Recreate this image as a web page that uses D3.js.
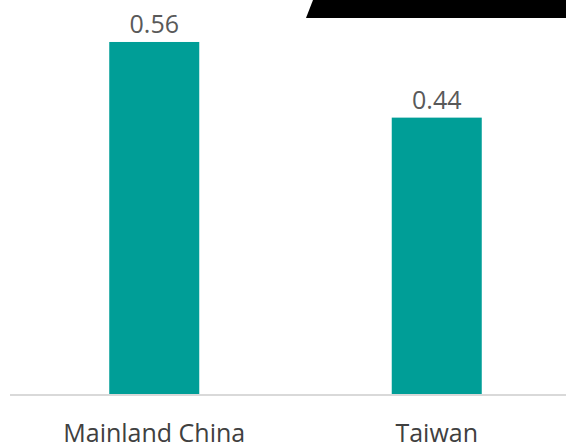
<!DOCTYPE html>
<html>
<head>
<meta charset="utf-8">
<script src="https://cdn.jsdelivr.net/npm/d3@7/dist/d3.min.js"></script>
<style>
  html, body { margin: 0; padding: 0; background: #fff; }
  svg { display: block; }
  text { font-family: "Open Sans", sans-serif; }
</style>
</head>
<body>
<svg id="chart" width="566" height="446"></svg>
<script>
// Share values by region
const categories = ["Mainland China", "Taiwan"];
const values = [0.56, 0.44];
const valueLabels = ["0.56", "0.44"];

const width = 566, height = 446;
const svg = d3.select("#chart");

const baseY = 395;
const x = d3.scaleBand()
  .domain(categories)
  .range([13, 578])
  .paddingInner(0.6814)
  .paddingOuter(0.3407);

const y = d3.scaleLinear()
  .domain([0, 0.625])
  .range([baseY, 1]);

// Dark banner strip along the top edge
svg.append("path")
  .attr("d", "M313,0 L566,0 L566,18 L306,18 Z")
  .attr("fill", "#000");

// Bars
svg.selectAll("rect.bar")
  .data(values)
  .join("rect")
  .attr("class", "bar")
  .attr("x", (d, i) => x(categories[i]))
  .attr("width", x.bandwidth())
  .attr("y", d => y(d))
  .attr("height", d => baseY - y(d))
  .attr("fill", "#009E97");

// Baseline
svg.append("line")
  .attr("x1", 10).attr("x2", 566)
  .attr("y1", baseY).attr("y2", baseY)
  .attr("stroke", "#d9d9d9")
  .attr("stroke-width", 2);

// Value labels
svg.selectAll("text.val")
  .data(values)
  .join("text")
  .attr("class", "val")
  .attr("x", (d, i) => x(categories[i]) + x.bandwidth() / 2)
  .attr("y", d => y(d) - 9)
  .attr("text-anchor", "middle")
  .attr("font-size", 25)
  .attr("fill", "#595959")
  .text((d, i) => valueLabels[i]);

// Category labels
svg.selectAll("text.cat")
  .data(categories)
  .join("text")
  .attr("class", "cat")
  .attr("x", d => x(d) + x.bandwidth() / 2)
  .attr("y", 442)
  .attr("text-anchor", "middle")
  .attr("font-size", 25)
  .attr("fill", "#404040")
  .text(d => d);
</script>
</body>
</html>
